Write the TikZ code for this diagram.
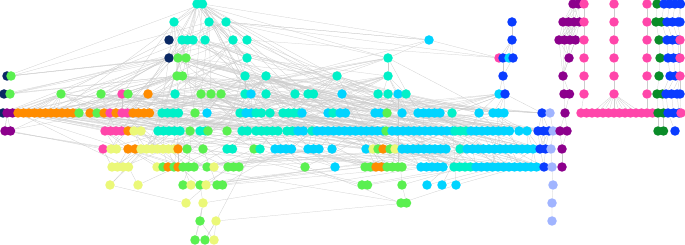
\documentclass[tikz,border=0pt]{standalone}
\usepackage{xcolor}
\usepackage{tikz}

\definecolor{cteal}{RGB}{0,240,200}
\definecolor{ccyan}{RGB}{0,212,255}
\definecolor{cgreen}{RGB}{90,240,80}
\definecolor{corange}{RGB}{255,140,0}
\definecolor{cyellow}{RGB}{235,248,120}
\definecolor{cpink}{RGB}{255,70,170}
\definecolor{cpurple}{RGB}{140,0,140}
\definecolor{cnavy}{RGB}{10,40,100}
\definecolor{cblue}{RGB}{10,60,255}
\definecolor{clav}{RGB}{160,180,255}
\definecolor{cdkgreen}{RGB}{10,140,40}

\pgfdeclarelayer{bg}
\pgfsetlayers{bg,main}

% one row of dots: prefix, y, runs x/count/colour
\newcount\dotcnt
\newcommand\dotrow[3]{%
    \global\dotcnt=0
    \foreach \xa/\nn/\col in {#3}{%
        \foreach \kk in {1,...,\nn}{%
            \global\advance\dotcnt by 1
            \pgfmathsetmacro\xx{\xa+(\kk-1)*5.5}
            \edef\vname{#1-\the\dotcnt}
            \node[vtx=\col] (\vname) at (\xx,#2) {};
        }%
    }%
    \expandafter\xdef\csname n#1\endcsname{\the\dotcnt}%
}
% first index a link may land on, per main row
\foreach \rw/\lo in {0/1,1/1,2/1,3/1,4/3,5/3,6/2,7/1,8/1,9/1,10/1,11/1,12/1,13/1}
    {\expandafter\xdef\csname lom\rw\endcsname{\lo}}

\begin{document}
\begin{tikzpicture}[x=1pt, y=-1pt,
    vtx/.style={circle, fill=#1, inner sep=0pt, minimum size=9.5pt},
    link/.style={draw=black!20, line width=0.25pt}
]
    \begin{pgfonlayer}{bg}
        \fill[white] (0,0) rectangle (685,245);
    \end{pgfonlayer}
    \useasboundingbox (0,0) rectangle (685,245);

    % main cluster
    \dotrow{m0}{4}{197/2/cteal}
    \dotrow{m1}{22}{174/1/cteal, 209/1/cteal, 226/1/cteal}
    \dotrow{m2}{40}{169/1/cnavy, 182/3/cteal, 205/1/cteal, 233/1/cteal, 247/1/cteal, 429/1/ccyan}
    \dotrow{m3}{58}{169/1/cnavy, 178/1/cgreen, 186/1/cgreen, 247/1/cteal, 388/1/cteal}
    \dotrow{m4}{76}{7/1/cnavy, 11/1/cgreen, 177/2/cgreen, 245/1/cteal, 266/1/cteal, 337/1/cteal, 388/1/cteal}
    \dotrow{m5}{94}{4/1/cnavy, 10/1/cgreen, 61/1/cgreen, 101/1/cgreen, 122/1/cpink, 128/1/cgreen, 148/1/corange, 175/1/cteal, 201/1/cgreen, 211/1/cgreen, 221/1/cgreen, 245/1/cteal, 251/1/ccyan, 266/1/cteal, 295/1/cteal, 308/2/cteal, 342/1/ccyan, 378/1/cteal, 388/1/cteal, 398/1/ccyan, 406/1/cteal}
    \dotrow{m6}{113}{3/1/cnavy, 7/2/cpurple, 18/11/corange, 79/1/cgreen, 90/1/corange, 97/1/cgreen, 104/1/corange, 110/1/cpink, 116/1/corange, 122/2/cpink, 133/4/corange, 162/4/cteal, 195/1/cgreen, 207/1/ccyan, 240/2/cteal, 246/2/ccyan, 256/2/cteal, 270/1/cteal, 283/4/cteal, 302/1/ccyan, 328/1/ccyan, 333/1/cteal, 340/2/ccyan, 375/2/ccyan, 387/1/cgreen, 402/1/ccyan, 418/5/ccyan, 452/1/cteal, 479/1/ccyan, 493/3/ccyan}
    \dotrow{m7}{131}{5/2/cpurple, 105/4/cpink, 128/1/corange, 134/1/cyellow, 141/1/cyellow, 158/5/cteal, 190/1/cgreen, 200/2/cteal, 208/1/cgreen, 227/1/cgreen, 242/2/cteal, 256/5/cteal, 287/2/cteal, 298/2/ccyan, 312/1/cteal, 317/13/ccyan, 386/1/cgreen, 392/12/ccyan, 455/3/cteal, 471/8/ccyan, 519/1/ccyan, 527/1/ccyan}
    \dotrow{m8}{149}{103/1/cpink, 111/2/cyellow, 128/1/corange, 135/1/corange, 141/7/cyellow, 178/1/corange, 187/1/cgreen, 203/1/cgreen, 227/2/cteal, 254/1/cgreen, 260/1/cteal, 275/4/ccyan, 308/3/ccyan, 332/1/ccyan, 366/1/ccyan, 373/1/cyellow, 378/1/cgreen, 383/1/corange, 390/1/cgreen, 395/1/cyellow, 402/9/ccyan, 460/1/cteal, 467/13/ccyan}
    \dotrow{m9}{167}{112/4/cyellow, 157/1/cyellow, 163/1/cgreen, 168/1/corange, 174/1/cgreen, 178/1/corange, 183/3/cgreen, 207/1/cgreen, 214/1/cyellow, 228/3/cgreen, 305/1/cgreen, 335/1/ccyan, 365/2/cgreen, 376/2/corange, 387/3/cgreen, 402/1/cgreen, 421/5/ccyan, 454/4/cteal, 476/12/ccyan}
    \dotrow{m10}{185}{110/1/cyellow, 138/1/cyellow, 183/1/cgreen, 191/1/cyellow, 200/1/cgreen, 206/1/cyellow, 217/2/cgreen, 362/2/cgreen, 402/1/cgreen, 427/1/ccyan, 442/1/ccyan, 456/1/ccyan}
    \dotrow{m11}{203}{186/1/cyellow, 203/1/cyellow, 401/2/cgreen}
    \dotrow{m12}{221}{200/1/cgreen, 216/1/cyellow}
    \dotrow{m13}{240}{195/1/cgreen, 205/1/cgreen, 214/1/cyellow}

    % blue column
    \dotrow{ba1}{22}{512/1/cblue}
    \dotrow{ba2}{40}{512/1/cblue}
    \dotrow{ba3}{58}{499/1/cpink, 503/1/cblue, 509/1/ccyan, 513/1/cblue}
    \dotrow{ba4}{76}{503/1/cblue}
    \dotrow{ba5}{94}{499/1/ccyan, 505/1/cblue}

    % blue, lavender and purple chains
    \dotrow{rc6}{113}{542/1/cblue, 550/1/clav, 565/1/cpurple}
    \dotrow{rc7}{131}{538/3/cblue, 553/1/clav, 560/1/cpurple, 567/1/cpurple}
    \dotrow{rc8}{149}{540/2/cblue, 551/1/clav, 562/1/cpurple}
    \dotrow{rc9}{167}{544/1/cblue, 552/1/clav, 562/1/cpurple}
    \dotrow{rc10}{185}{553/1/clav}
    \dotrow{rc11}{203}{552/1/clav}
    \dotrow{rc12}{221}{552/1/clav}

    % purple cluster
    \dotrow{pu0}{4}{573/2/cpurple}
    \dotrow{pu1}{22}{563/4/cpurple}
    \dotrow{pu2}{40}{559/4/cpurple}
    \dotrow{pu3}{58}{569/1/cpurple}
    \dotrow{pu4}{76}{563/1/cpurple}
    \dotrow{pu5}{94}{564/2/cpurple}

    % pink columns
    \foreach \cx [count=\ci] in {584,614,647}
        \foreach \rw/\yy in {0/4,1/22,2/40,3/58,4/76,5/94}
            \node[vtx=cpink] (pc\ci-\rw) at (\cx,\yy) {};
    \dotrow{pr}{113}{581/14/cpink}

    % green and blue at the right edge
    \dotrow{ed0}{4}{657/1/cdkgreen, 664/4/cblue}
    \dotrow{ed1}{22}{656/2/cdkgreen, 667/3/cblue, 680/1/cblue}
    \dotrow{ed2}{40}{659/1/cdkgreen, 667/3/cblue, 680/1/cpink}
    \dotrow{ed3}{58}{660/1/cdkgreen, 668/3/cblue, 680/1/cpink}
    \dotrow{ed4}{76}{659/1/cdkgreen, 670/2/cblue, 680/1/cpink}
    \dotrow{ed5}{94}{657/2/cdkgreen, 666/3/cblue, 680/1/cblue}
    \dotrow{ed6}{113}{658/2/cdkgreen, 668/3/cblue, 681/1/cpink}
    \dotrow{ed7}{131}{658/2/cdkgreen, 675/1/cblue}

    \begin{pgfonlayer}{bg}
        \pgfmathsetseed{31}
        % links in the main cluster
        \foreach \rw in {1,...,13}{
            \pgfmathtruncatemacro\up{\rw-1}
            \pgfmathtruncatemacro\far{max(0,\rw-4)}
            \edef\ncur{\csname nm\rw\endcsname}
            \edef\nup{\csname nm\up\endcsname}
            \edef\loup{\csname lom\up\endcsname}
            \foreach \j in {1,...,\ncur}{
                \pgfmathtruncatemacro\tg{min(\nup,max(\loup,round(\j*\nup/\ncur+(rnd-0.5)*min(8,\nup*0.5))))}
                \draw[link] (m\rw-\j) -- (m\up-\tg);
                \pgfmathrandominteger{\rowb}{\far}{\up}
                \edef\nrb{\csname nm\rowb\endcsname}
                \edef\lorb{\csname lom\rowb\endcsname}
                \pgfmathrandominteger{\tgb}{\lorb}{\nrb}
                \draw[link] (m\rw-\j) -- (m\rowb-\tgb);
            }
        }
        \foreach \q in {1,...,18}{
            \pgfmathrandominteger{\rowb}{3}{9}
            \edef\nrb{\csname nm\rowb\endcsname}
            \edef\lorb{\csname lom\rowb\endcsname}
            \pgfmathrandominteger{\tgb}{\lorb}{\nrb}
            \pgfmathrandominteger{\src}{1}{2}
            \draw[link] (m0-\src) -- (m\rowb-\tgb);
        }
        \draw[link] (m4-2) -- (m3-1);
        \draw[link] (m5-2) -- (m3-2);
        \draw[link] (m7-1) -- (m6-2);
        \draw[link] (m1-3) -- (m2-8);
        \draw[link] (m1-3) -- (ba3-1);
        \draw[link] (m2-8) -- (ba3-1);
        \draw[link] (m2-7) -- (ba3-2);

        % blue column
        \draw[link] (ba1-1) -- (ba2-1);
        \foreach \k in {1,...,4}
            \draw[link] (ba2-1) -- (ba3-\k);
        \draw[link] (ba3-2) -- (ba4-1);
        \draw[link] (ba3-4) -- (ba4-1);
        \draw[link] (ba4-1) -- (ba5-1);
        \draw[link] (ba4-1) -- (ba5-2);
        \draw[link] (ba5-2) -- (rc6-1);
        \edef\nsix{\csname nm6\endcsname}
        \pgfmathtruncatemacro\loa{\nsix-12}
        \pgfmathtruncatemacro\lob{\nsix-20}
        \foreach \q in {1,...,6}{
            \pgfmathrandominteger{\tgb}{\loa}{\nsix}
            \draw[link] (ba5-2) -- (m6-\tgb);
            \pgfmathrandominteger{\tgb}{\lob}{\nsix}
            \draw[link] (ba5-1) -- (m6-\tgb);
        }

        % chains on the right
        \foreach \sd/\rw in {rc6-1/5, rc7-1/6, rc7-3/6, rc8-1/7, rc9-1/8}{
            \edef\nr{\csname nm\rw\endcsname}
            \pgfmathtruncatemacro\lo{\nr-15}
            \foreach \q in {1,...,5}{
                \pgfmathrandominteger{\tgb}{\lo}{\nr}
                \draw[link] (\sd) -- (m\rw-\tgb);
            }
        }
        \foreach \j in {1,2,3}
            \draw[link] (rc6-1) -- (rc7-\j);
        \draw[link] (rc6-2) -- (rc7-4);
        \draw[link] (rc6-3) -- (rc7-5);
        \draw[link] (rc6-3) -- (rc7-6);
        \foreach \j in {1,2,3}{
            \draw[link] (rc7-\j) -- (rc8-1);
            \draw[link] (rc7-\j) -- (rc8-2);
        }
        \draw[link] (rc7-4) -- (rc8-3);
        \draw[link] (rc7-5) -- (rc8-4);
        \draw[link] (rc7-6) -- (rc8-4);
        \draw[link] (rc8-1) -- (rc9-1);
        \draw[link] (rc8-2) -- (rc9-1);
        \draw[link] (rc8-3) -- (rc9-2);
        \draw[link] (rc8-4) -- (rc9-3);
        \draw[link] (rc9-2) -- (rc10-1) -- (rc11-1) -- (rc12-1);

        % purple cluster
        \foreach \i in {1,2}
            \foreach \j in {1,...,4}
                \draw[link] (pu0-\i) -- (pu1-\j);
        \foreach \i in {1,...,4}{
            \foreach \j in {1,...,4}
                \draw[link] (pu1-\i) -- (pu2-\j);
            \draw[link] (pu2-\i) -- (pu3-1);
            \draw[link] (pu2-\i) -- (pu4-1);
        }
        \draw[link] (pu3-1) -- (pu4-1);
        \draw[link] (pu4-1) -- (pu5-1);
        \draw[link] (pu4-1) -- (pu5-2);
        \draw[link] (pu5-1) -- (rc6-3);
        \draw[link] (pu5-2) -- (rc6-3);

        % pink columns
        \foreach \ci in {1,2,3}
            \foreach \rw in {1,...,5}{
                \pgfmathtruncatemacro\up{\rw-1}
                \draw[link] (pc\ci-\up) -- (pc\ci-\rw);
            }
        \draw[link] (pc1-5) -- (pr-1);
        \foreach \j in {3,...,12}
            \draw[link] (pc2-5) -- (pr-\j);
        \draw[link] (pc3-5) -- (pr-13);

        % right edge
        \foreach \rw in {1,...,7}{
            \pgfmathtruncatemacro\up{\rw-1}
            \edef\ncur{\csname ned\rw\endcsname}
            \edef\nup{\csname ned\up\endcsname}
            \foreach \j in {1,...,\ncur}{
                \pgfmathtruncatemacro\tg{min(\j,\nup)}
                \draw[link] (ed\up-\tg) -- (ed\rw-\j);
            }
        }
    \end{pgfonlayer}
\end{tikzpicture}
\end{document}
